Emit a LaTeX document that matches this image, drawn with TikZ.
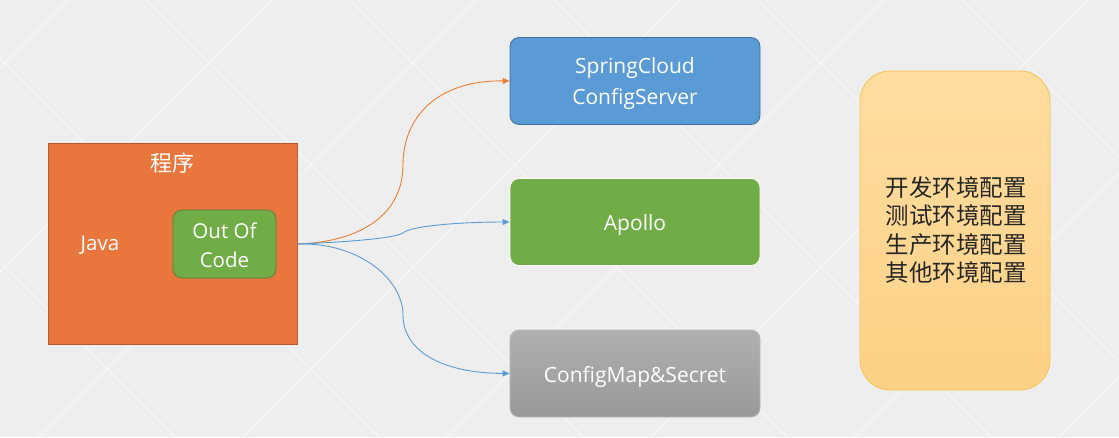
\documentclass[tikz,border=0pt]{standalone}
\usepackage{fontspec}
\setmainfont{Open Sans}
\newfontfamily\cjk{Noto Sans CJK SC}
\usetikzlibrary{arrows.meta}
\definecolor{bgc}{HTML}{EEEEEE}
\definecolor{orfill}{HTML}{E9773D}
\definecolor{ordraw}{HTML}{B85A2C}
\definecolor{grfill}{HTML}{70AD47}
\definecolor{grdraw}{HTML}{548235}
\definecolor{blfill}{HTML}{5B9BD5}
\definecolor{bldraw}{HTML}{41719C}
\definecolor{gyfill}{HTML}{A5A5A5}
\definecolor{gytop}{HTML}{B0B0B0}
\definecolor{gybot}{HTML}{999999}
\definecolor{yltop}{HTML}{FFDDA0}
\definecolor{ylbot}{HTML}{FDD185}
\definecolor{yldraw}{HTML}{F6C14F}
\definecolor{arrbl}{HTML}{5B9BD5}
\definecolor{arror}{HTML}{ED7D31}
\tikzset{
  cfgbox/.style={rounded corners=9pt, minimum width=250pt, minimum height=87pt, inner sep=0pt, line width=0.8pt},
  cfgtext/.style={text=white, font=\fontsize{21}{31}\selectfont, align=center, yshift=-3pt},
  conn/.style={line width=0.9pt, -{Triangle[length=7pt,width=6pt]}},
}
\begin{document}
\begin{tikzpicture}[x=1pt,y=-1pt]
\useasboundingbox (0,0) rectangle (1119,437);
\fill[bgc] (0,0) rectangle (1119,437);
\begin{scope}[white, line width=1.2pt, opacity=0.5]
  \clip (0,0) rectangle (1119,437);
  \foreach \c in {-466,-262,-58,146,350,554,758,962} {
    \draw (\c,0) -- ++(600,600);
  }
  \foreach \c in {68,272,476,680,884,1088,1292,1496} {
    \draw (\c,0) -- ++(-600,600);
  }
\end{scope}
% program box
\node[draw=ordraw, fill=orfill, line width=0.8pt, minimum width=249pt, minimum height=201pt, inner sep=0pt] (prog) at (172.5,243.5) {};
\node[text=white, font=\cjk\fontsize{22}{26}\selectfont] (progt) at (172,163) {程序};
\node[text=white, font=\fontsize{20.5}{24}\selectfont] (java) at (100,245) {Java};
\node[draw=grdraw, fill=grfill, rounded corners=9pt, line width=0.8pt, minimum width=103pt, minimum height=68pt, inner sep=0pt] (ooc) at (224.5,244) {};
\node[text=white, align=center, font=\fontsize{20.5}{29}\selectfont, yshift=-1.5pt] (ooct) at (ooc.center) {Out Of\\Code};
% config boxes
\node[cfgbox, draw=bldraw, fill=blfill] (scc) at (635,81) {};
\node[cfgtext] (scct) at (scc.center) {SpringCloud\\ConfigServer};
\node[cfgbox, draw=white, fill=grfill] (apollo) at (635,222) {};
\node[cfgtext] (apollot) at (apollo.center) {Apollo};
\node[cfgbox, draw=gyfill!80!white, top color=gytop, bottom color=gybot] (cms) at (635,373.5) {};
\node[cfgtext] (cmst) at (cms.center) {ConfigMap\&Secret};
% env box
\node[draw=yldraw, top color=yltop, bottom color=ylbot, line width=0.8pt, rounded corners=30pt, minimum width=190pt, minimum height=319pt, inner sep=0pt] (env) at (955,230.5) {};
\node[align=left, font=\cjk\fontsize{23.5}{28.5}\selectfont, text=black!85] (envt) at (956,230) {开发环境配置\\测试环境配置\\生产环境配置\\其他环境配置};
% connectors
\coordinate (src) at (prog.east |- ooc.east);
\draw[conn, arror] (src) .. controls (360,242) and (403,215) .. (403,165)
  .. controls (403,115) and (440,80) .. (scc.west);
\draw[conn, arrbl] (src) .. controls (350,242) and (395,238) .. (403,233)
  .. controls (410,226) and (460,222) .. (apollo.west);
\draw[conn, arrbl] (src) .. controls (360,242) and (403,280) .. (403,315)
  .. controls (403,350) and (440,373) .. (cms.west);
\end{tikzpicture}
\end{document}
